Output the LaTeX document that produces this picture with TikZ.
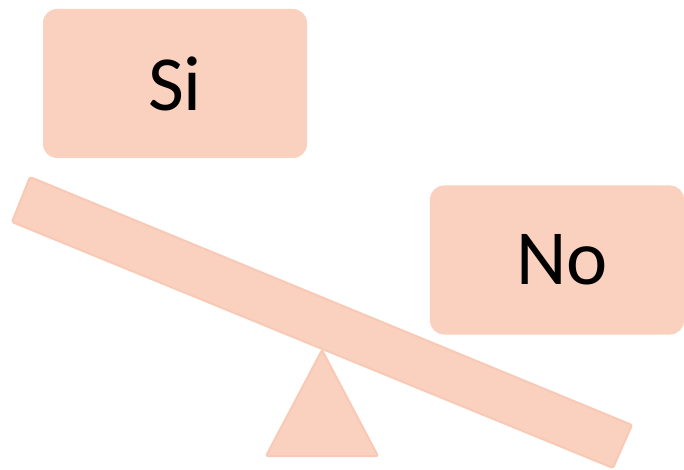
\documentclass[tikz,border=0pt]{standalone}
\usepackage{fontspec}
\setmainfont{Carlito}
\definecolor{peach}{HTML}{FAD0BE}
\definecolor{peachline}{HTML}{F8CAB5}
\begin{document}
\begin{tikzpicture}[x=1pt,y=-1pt,
  box/.style={fill=peach,draw=none,rounded corners=14pt,inner sep=0pt,
    minimum width=#1,minimum height=149pt,font=\fontsize{78}{86}\selectfont},
  part/.style={fill=peach,draw=peachline,line width=2pt,rounded corners=2pt}]
\useasboundingbox (0,0) rectangle (684,470);
\node[box=264pt] (si) at (175,83.5) {Si};
\node[box=254pt] (no) at (557,260) {\hspace*{10pt}No};
\draw[part] (322,350) -- (378,456) -- (266,456) -- cycle;
\draw[part] (30,177) -- (632,425) -- (613,468) -- (12,222) -- cycle;
\end{tikzpicture}
\end{document}
